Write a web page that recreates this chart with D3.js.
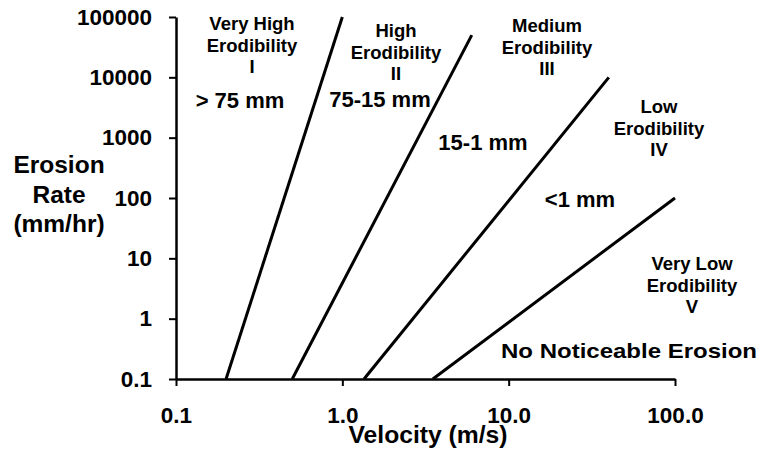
<!DOCTYPE html>
<html>
<head>
<meta charset="utf-8">
<script src="https://cdn.jsdelivr.net/npm/d3@7"></script>
<style>
  body { margin: 0; background: #fff; }
  text { font-family: "Liberation Sans", Arial, sans-serif; font-weight: bold; fill: #000; }
</style>
</head>
<body>
<div id="chart"></div>
<script>
// threshold lines between erodibility classes (velocity m/s, erosion rate mm/hr)
const lineStartX = [0.2, 0.5, 1.35, 3.5];
const lineStartY = [0.1, 0.1, 0.1, 0.1];
const lineEndX = [1.0, 6.0, 40, 100];
const lineEndY = [100000, 50000, 10000, 100];

const xTicks = [0.1, 1, 10, 100];
const yTicks = [0.1, 1, 10, 100, 1000, 10000, 100000];

const classNames = [
  ["Very High", "Erodibility", "I"],
  ["High", "Erodibility", "II"],
  ["Medium", "Erodibility", "III"],
  ["Low", "Erodibility", "IV"],
  ["Very Low", "Erodibility", "V"]
];
const sizeLabels = ["> 75 mm", "75-15 mm", "15-1 mm", "<1 mm"];
const noErosionLabel = "No Noticeable Erosion";

const W = 761, H = 455;
const margin = { top: 17, right: 86, bottom: 76, left: 176 };

const svg = d3.select("#chart").append("svg")
  .attr("width", W)
  .attr("height", H);

const x = d3.scaleLog()
  .domain([0.1, 100])
  .range([margin.left, W - margin.right]);

const y = d3.scaleLog()
  .domain([0.1, 100000])
  .range([H - margin.bottom, margin.top]);

// axes
const xAxis = svg.append("g")
  .attr("transform", "translate(0," + y(0.1) + ")")
  .call(d3.axisBottom(x).tickValues(xTicks).tickFormat(d3.format(".1f"))
    .tickSize(7).tickSizeOuter(0).tickPadding(21));

const yAxis = svg.append("g")
  .attr("transform", "translate(" + x(0.1) + ",0)")
  .call(d3.axisLeft(y).tickValues(yTicks).tickFormat(d => String(d))
    .tickSize(7).tickSizeOuter(0).tickPadding(17));

[xAxis, yAxis].forEach(g => {
  g.select(".domain").attr("stroke", "#000").attr("stroke-width", 2.5);
  g.selectAll(".tick line").attr("stroke", "#000").attr("stroke-width", 2);
  g.selectAll(".tick text")
    .attr("font-family", "Liberation Sans, Arial, sans-serif")
    .attr("font-weight", "bold")
    .attr("font-size", 22.5)
    .attr("fill", "#000");
});

// threshold lines
svg.append("g")
  .selectAll("line")
  .data(lineStartX)
  .enter().append("line")
    .attr("x1", (d, i) => x(lineStartX[i]))
    .attr("y1", (d, i) => y(lineStartY[i]))
    .attr("x2", (d, i) => x(lineEndX[i]))
    .attr("y2", (d, i) => y(lineEndY[i]))
    .attr("stroke", "#000")
    .attr("stroke-width", 3);

// axis titles
svg.append("text")
  .attr("x", 428)
  .attr("y", 443)
  .attr("text-anchor", "middle")
  .attr("font-size", 23)
  .attr("textLength", 159)
  .attr("lengthAdjust", "spacingAndGlyphs")
  .text("Velocity (m/s)");

const yTitle = svg.append("text")
  .attr("text-anchor", "middle")
  .attr("font-size", 24.5);
["Erosion", "Rate", "(mm/hr)"].forEach((t, i) => {
  yTitle.append("tspan")
    .attr("x", 59)
    .attr("y", 173 + i * 29.5)
    .text(t);
});

// class labels (centre x, first baseline)
const classPos = [[252, 30], [396, 37], [547, 32], [659, 113], [692, 270]];
classNames.forEach((lines, k) => {
  const t = svg.append("text")
    .attr("text-anchor", "middle")
    .attr("font-size", 18.5);
  lines.forEach((s, i) => {
    t.append("tspan")
      .attr("x", classPos[k][0])
      .attr("y", classPos[k][1] + i * 21.7)
      .text(s);
  });
});

// sediment size labels
const sizePos = [[240, 108], [380, 107], [483, 150], [580, 207]];
sizeLabels.forEach((s, i) => {
  svg.append("text")
    .attr("x", sizePos[i][0])
    .attr("y", sizePos[i][1])
    .attr("text-anchor", "middle")
    .attr("font-size", 22)
    .text(s);
});

svg.append("text")
  .attr("x", 629)
  .attr("y", 358)
  .attr("text-anchor", "middle")
  .attr("font-size", 21)
  .attr("textLength", 256)
  .attr("lengthAdjust", "spacingAndGlyphs")
  .text(noErosionLabel);
</script>
</body>
</html>
